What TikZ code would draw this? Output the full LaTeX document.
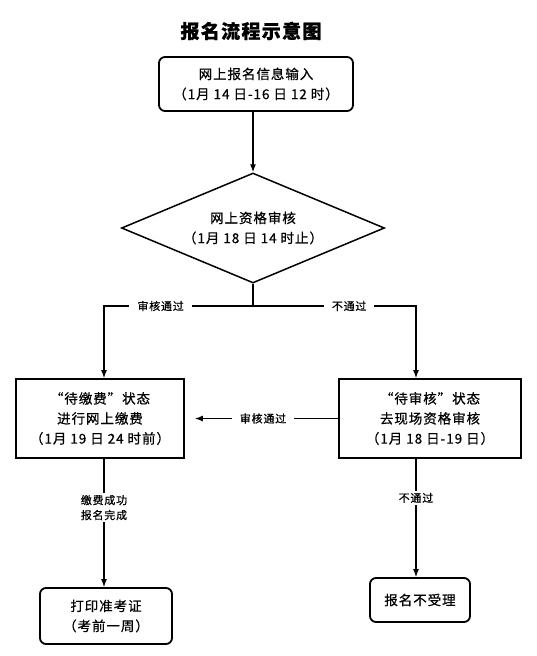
\documentclass[tikz,border=0pt]{standalone}
\usepackage{fontspec}
\setmainfont[LetterSpace=7,FakeBold=0.6]{Noto Sans CJK SC}
\usetikzlibrary{shapes.geometric,arrows.meta}

\begin{document}
\begin{tikzpicture}[x=1pt,y=-1pt,
  line width=1.2pt,
  >={Latex[length=8pt,width=6pt]},
  stepbox/.style={draw,line width=1.8pt,inner sep=0pt,align=center,
    font=\fontsize{13.5}{20}\selectfont},
  roundbox/.style={stepbox,rounded corners=6pt},
  decision/.style={diamond,draw,line width=1.5pt,inner sep=0pt,aspect=2.4,
    align=center,font=\fontsize{13.5}{20}\selectfont},
  tag/.style={fill=white,inner xsep=8pt,inner ysep=2pt,align=center,
    font=\fontsize{11}{15}\selectfont}]
\useasboundingbox (0,0) rectangle (537,656);

\node[font=\fontsize{19}{22}\bfseries] (title) at (251,31) {报名流程示意图};

\node[roundbox,minimum width=194pt,minimum height=54pt] (entry) at (256,84)
  {网上报名信息输入\\（1月 14 日-16 日 12 时）};
\node[decision,minimum width=263pt,minimum height=110pt] (check) at (253,228)
  {网上资格审核\\（1月 18 日 14 时止）};
\coordinate (split) at (253,306);
\coordinate (lturn) at (104,306);
\coordinate (rturn) at (416,306);

\node[stepbox,minimum width=168pt,minimum height=79pt] (pay) at (100,418.5)
  {“待缴费”状态\\进行网上缴费\\（1月 19 日 24 时前）};
\node[stepbox,minimum width=182pt,minimum height=79pt] (onsite) at (430,418.5)
  {“待审核”状态\\去现场资格审核\\（1月 18 日-19 日）};
\node[roundbox,minimum width=132pt,minimum height=56pt] (ticket) at (106,616)
  {打印准考证\\（考前一周）};
\node[roundbox,minimum width=100pt,minimum height=44pt] (reject) at (420,600)
  {报名不受理};

% connectors
\draw[->] (check.north |- entry.south) -- (check.north);
\draw (check.south) -- (split);
\draw[->] (split) -- node[tag,pos=0.62] {审核通过} (lturn) -- (pay.north -| lturn);
\draw[->] (split) -- node[tag,pos=0.59] {不通过} (rturn) -- (onsite.north -| rturn);
\draw[->,shorten >=10pt] (onsite.west) -- node[tag,pos=0.49] {审核通过} (pay.east);
\draw[->] (pay.south -| lturn) -- node[tag,pos=0.38] {缴费成功\\报名完成} (ticket.north -| lturn);
\draw[->] (onsite.south -| rturn) -- node[tag,pos=0.33] {不通过} (reject.north -| rturn);
\end{tikzpicture}
\end{document}
